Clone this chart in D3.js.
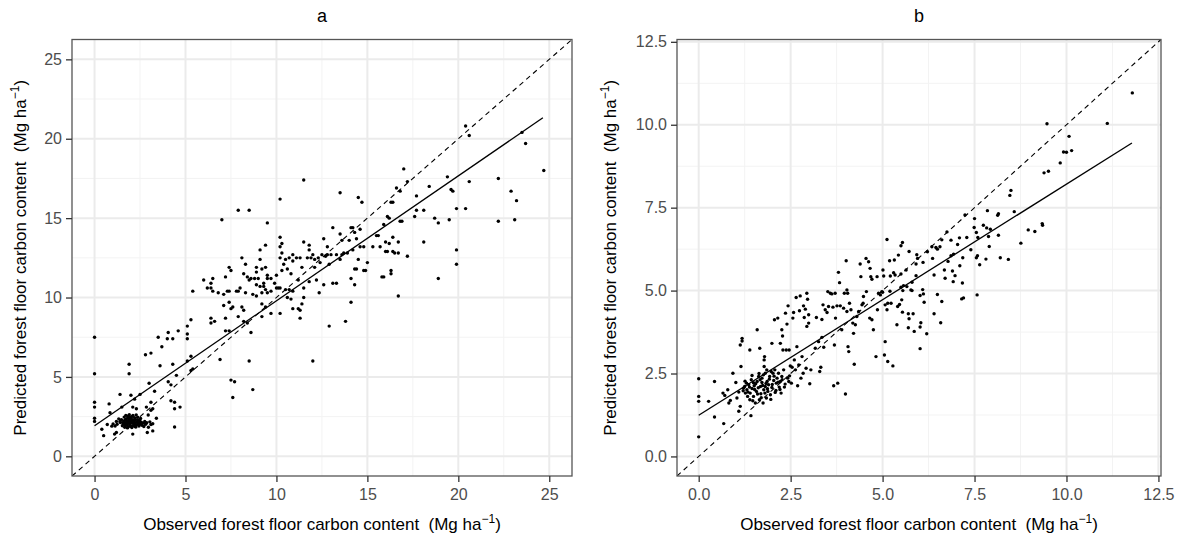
<!DOCTYPE html>
<html lang="en">
<head>
<meta charset="utf-8">
<title>Observed vs predicted forest floor carbon</title>
<script src="https://cdn.jsdelivr.net/npm/d3@7"></script>
<style>
  html, body {margin:0; padding:0; background:#fff;}
  svg {display:block; font-family:"Liberation Sans", Arial, Helvetica, sans-serif;}
  .grid-major {stroke:#ebebeb; stroke-width:2;}
  .grid-minor {stroke:#f3f3f3; stroke-width:1;}
  .axis path {display:none;}
  .axis line {stroke:#333; stroke-width:1.3;}
  .axis text {fill:#4d4d4d; font-size:16px; font-family:"Liberation Sans", Arial, sans-serif;}
  .title {font-size:18px; fill:#000;}
  .lab {font-size:17px; fill:#000; white-space:pre;}
</style>
</head>
<body>
<svg id="chart" width="1182" height="537"></svg>
<script>
// panel titles, axis ticks and fitted lines
var titles = ["a", "b"];
var ticksA = [0, 5, 10, 15, 20, 25];
var minorA = [2.5, 7.5, 12.5, 17.5, 22.5];
var ticksB = [0, 2.5, 5, 7.5, 10, 12.5];
var minorB = [1.25, 3.75, 6.25, 8.75, 11.25];
var fitA = [[0, 1.93], [24.65, 21.32]];
var fitB = [[0, 1.24], [11.78, 9.45]];

// [observed, predicted] - panel a
var pointsA = [
  [17.0,18.1],[17.2,17.3],[16.6,16.9],[17.7,16.4],[16.3,16.0],[17.7,15.5],[17.6,15.1],[16.8,14.8],[17.2,12.6],[16.7,10.1],
  [11.5,17.4],[13.5,16.6],[14.5,16.3],[14.7,16.0],[10.2,16.2],[7.9,15.5],[8.5,15.5],[7.0,14.9],[9.5,14.7],[16.1,15.1],
  [16.2,15.0],[15.9,14.6],[13.1,14.4],[14.1,14.4],[14.2,14.4],[14.3,14.1],[14.6,14.3],[10.2,13.8],[11.5,13.5],[11.8,13.3],
  [11.8,13.0],[9.4,13.3],[9.1,13.0],[12.6,13.7],[12.8,13.2],[13.5,14.0],[13.6,13.6],[14.0,13.6],[14.4,13.7],[14.6,13.2],
  [14.8,13.2],[15.3,13.2],[15.7,13.2],[16.0,13.5],[16.2,13.4],[16.4,13.8],[16.7,13.5],[16.7,12.8],[16.0,12.9],[16.4,12.9],
  [15.5,13.9],[10.2,13.2],[10.3,13.4],[10.3,12.8],[10.2,12.5],[10.5,12.4],[10.7,12.5],[10.9,12.7],[11.1,12.5],[11.3,12.5],
  [11.7,12.5],[12.0,12.7],[11.9,12.5],[12.1,12.4],[12.3,12.5],[12.5,12.7],[12.7,12.6],[12.8,12.7],[13.0,12.7],[13.3,12.7],
  [13.6,12.7],[13.7,12.8],[13.9,12.8],[14.2,13.0],[14.5,12.4],[15.0,12.2],[14.8,11.7],[14.3,11.8],[13.5,12.4],[12.9,12.1],
  [12.4,12.2],[12.1,11.9],[11.4,11.9],[10.9,12.3],[10.6,11.8],[10.8,11.5],[10.4,12.1],[10.3,11.7],[10.0,11.4],[9.7,11.2],
  [9.9,10.9],[10.1,10.6],[10.2,10.6],[10.5,10.5],[10.7,10.5],[10.9,10.4],[11.2,11.1],[11.5,10.6],[11.8,11.0],[12.2,11.1],
  [12.6,10.8],[13.1,10.9],[13.3,10.9],[14.1,11.2],[14.3,10.8],[14.1,9.7],[13.8,8.5],[12.9,8.2],[15.8,11.3],[16.3,11.7],
  [16.3,11.5],[8.9,11.6],[9.2,11.8],[9.0,11.2],[9.4,11.9],[9.5,11.4],[9.5,11.2],[9.3,10.9],[9.1,10.7],[8.9,10.8],
  [9.3,10.7],[9.4,10.5],[9.2,10.3],[9.5,10.3],[9.7,10.4],[10.0,10.6],[8.9,10.1],[8.7,10.2],[8.3,10.3],[8.0,10.6],
  [7.9,10.4],[7.8,10.4],[7.4,10.4],[7.3,10.4],[7.1,10.2],[6.8,10.3],[6.5,10.4],[6.4,10.6],[6.2,10.6],[6.0,11.1],
  [6.5,11.2],[6.4,10.9],[7.2,11.3],[7.4,11.9],[7.5,11.7],[8.1,12.5],[8.3,12.1],[8.2,11.5],[8.4,11.3],[8.6,11.2],
  [8.5,11.1],[8.8,11.2],[9.1,12.4],[8.9,11.9],[5.4,10.4],[5.3,8.6],[5.1,8.2],[6.4,8.7],[6.4,8.4],[6.6,8.5],
  [7.1,9.5],[7.4,9.7],[7.5,9.3],[7.6,9.4],[7.2,8.7],[7.9,8.8],[8.1,9.4],[8.2,9.2],[8.2,8.5],[8.4,8.4],
  [9.2,9.6],[9.2,8.8],[9.7,9.0],[10.2,9.0],[9.4,9.4],[10.8,9.9],[10.9,9.3],[11.2,9.3],[11.3,9.2],[11.4,9.6],
  [11.3,8.7],[10.6,10.0],[11.5,10.0],
  [0,7.5],[0,5.2],[0,3.4],[0,3.1],[0,2.4],[0,2.2],[3.5,7.5],[4.05,7.8],[4.6,7.9],[4.0,7.4],[4.3,7.4],[5.1,7.7],[5.1,7.4],
  [2.8,6.4],[3.1,6.5],[3.7,6.9],[5.3,6.3],[1.9,5.8],[1.9,5.2],[3.6,5.7],[4.3,5.8],[5.1,6.0],[6.9,6.1],[5.4,5.5],[5.3,5.4],
  [4.5,5.1],[3.0,4.6],[3.3,4.1],[4.05,4.7],[4.2,4.5],[1.4,3.9],[2.0,3.85],[2.5,3.9],[2.2,3.6],[2.1,3.1],[2.3,3.0],[3.1,3.4],
  [3.2,3.0],[4.2,3.5],[4.4,3.4],[4.4,3.0],[4.7,3.1],[4.4,1.85],[0.8,3.3],[0.85,2.75],[1.5,3.1],[3.1,2.9],[2.85,3.1],[3.4,2.4],
  [2.95,2.6],[0.4,1.7],[0.5,1.3],[0.7,2.0],[0.95,1.9],[1.1,1.4],[1.2,1.5],[1.2,2.2],[1.4,2.2],[2.1,1.4],[2.9,1.5],[3.2,1.6],
  [2.8,2.1],[3.1,2.0],[3.2,2.05],
  [1.42,2.13],[1.48,2.31],[1.53,1.92],[1.57,2.04],[1.61,2.22],[1.63,2.47],[1.66,1.83],[1.68,2.11],[1.71,2.34],[1.72,2.58],
  [1.75,1.95],[1.77,2.02],[1.79,2.19],[1.82,2.41],[1.84,2.53],[1.86,1.86],[1.88,2.08],[1.90,2.27],[1.91,2.62],[1.94,1.97],
  [1.96,2.05],[1.98,2.16],[2.01,2.38],[2.03,2.49],[2.05,1.81],[2.07,2.12],[2.09,2.29],[2.11,2.57],[2.14,1.93],[2.16,2.01],
  [2.18,2.21],[2.20,2.43],[2.23,2.09],[2.25,2.32],[2.27,1.84],[2.31,1.99],[2.34,2.18],[2.37,2.46],[2.41,2.07],[2.44,1.91],
  [2.48,2.24],[2.52,2.03],[2.57,2.15],[2.61,1.96],[2.66,2.09],[2.71,1.88],[2.76,2.19],[2.81,2.02],[2.87,2.12],[2.96,1.83],
  [3.04,2.17],[1.33,2.36],[1.24,2.02],[1.13,1.91],[1.02,2.04],[2.53,2.38],[2.29,2.61],[1.58,2.14],[1.74,2.27],[1.85,2.15],
  [1.93,2.34],[2.06,2.24],[2.13,2.11],[1.99,1.89],[1.81,1.79],[2.22,1.88],[2.39,2.29],[1.69,1.97],[2.46,2.12],[1.87,2.46],
  [7.5,4.8],[7.7,4.7],[7.6,3.7],[8.5,6.0],[8.7,4.2],[8.6,7.8],[7.2,7.9],[7.4,7.9],
  [20.4,20.8],[20.6,20.2],[23.5,20.4],[23.7,19.7],[24.7,18.0],[18.4,17.0],[19.4,17.6],[20.6,17.3],[19.6,16.8],[19.7,16.7],
  [16.8,16.7],[16.4,16.0],[22.2,17.5],[22.2,14.8],[22.9,16.7],[23.2,16.1],[23.1,14.9],[19.9,15.6],[20.4,15.6],[18.7,15.0],
  [18.9,14.7],[19.5,14.9],[18.1,15.5],[16.9,14.8],[15.6,13.9],[18.1,13.5],[19.9,13.0],[19.9,12.1],[18.9,11.2],[16.1,12.9],
  [16.5,12.8],[15.9,11.3],[14.9,11.7],[14.4,11.8],[12.35,10.3],[12.0,6.0]
];

// [observed, predicted] - panel b
var pointsB = [
  [0,2.34],[0,1.81],[0,1.66],[0,0.59],[0.43,2.26],[0.27,1.66],[0.43,1.19],[0.68,0.99],[0.66,1.91],[0.71,1.84],
  [0.79,2.01],[0.82,1.61],[0.86,1.69],[0.93,2.51],[1.01,2.23],[1.04,1.76],[1.09,1.94],[1.09,1.36],[1.13,1.51],[1.15,2.71],
  [1.18,3.56],[1.13,3.36],[1.18,3.48],[1.22,2.06],[1.25,2.11],[1.27,1.91],[1.30,2.21],[1.31,2.01],[1.33,1.81],[1.36,2.16],
  [1.39,1.71],[1.40,1.91],[1.42,1.23],[1.45,2.05],[1.45,2.44],[1.39,3.21],[1.49,1.81],[1.51,2.13],[1.54,1.61],[1.57,1.96],
  [1.59,2.26],[1.59,3.82],[1.63,2.41],[1.65,1.71],[1.66,3.26],[1.68,2.11],[1.69,1.89],[1.72,2.23],[1.72,2.36],[1.75,1.61],
  [1.77,2.01],[1.78,2.71],[1.78,2.91],[1.79,3.01],[1.81,2.11],[1.81,2.51],[1.84,1.76],[1.86,2.26],[1.88,1.96],[1.90,2.16],
  [1.93,2.41],[1.95,1.86],[1.97,2.56],[1.99,2.08],[1.99,3.41],[2.02,2.51],[2.04,2.29],[2.06,4.12],[2.07,2.61],[2.08,1.93],
  [2.11,2.21],[2.13,2.36],[2.15,4.17],[2.17,2.51],[2.19,2.09],[2.22,3.41],[2.22,2.26],[2.24,1.91],[2.26,3.82],[2.28,3.63],
  [2.26,2.41],[2.29,3.21],[2.31,2.61],[2.33,2.09],[2.36,4.32],[2.38,3.21],[2.40,3.99],[2.43,4.54],[2.45,2.26],[2.46,3.21],
  [2.47,2.43],[2.49,2.73],[2.52,2.21],[2.54,2.69],[2.56,4.17],[2.58,4.34],[2.60,2.91],[2.63,2.61],[2.65,4.79],[2.67,3.31],
  [2.69,2.13],[2.72,2.76],[2.74,4.39],[2.76,4.84],[2.78,2.36],[2.81,3.01],[2.84,2.51],[2.85,4.54],[2.87,4.19],[2.90,4.44],
  [2.92,2.66],[2.94,4.92],[2.94,3.92],[2.96,4.74],[2.99,4.02],[2.99,4.27],[3.02,2.19],[3.05,2.61],[3.17,3.26],[3.20,4.19],
  [3.26,3.46],[3.29,2.56],[3.32,2.69],[3.35,3.59],[3.35,4.13],[3.38,4.57],[3.40,3.29],[3.44,4.42],[3.49,4.34],[3.51,4.97],
  [3.53,4.52],[3.58,4.92],[3.62,4.90],[3.65,4.50],[3.67,2.13],[3.69,3.36],[3.71,4.92],[3.72,4.17],[3.76,4.54],[3.78,2.21],
  [3.80,5.55],[3.83,5.24],[3.85,4.54],[3.89,3.82],[3.94,4.47],[3.96,4.92],[3.99,1.88],[4.01,5.90],[4.03,5.02],[4.03,4.37],
  [4.05,4.92],[4.06,3.31],[4.08,3.16],[4.10,4.62],[4.14,4.42],[4.19,4.02],[4.21,3.71],[4.23,2.78],[4.26,3.97],[4.30,4.22],
  [4.35,4.37],[4.39,5.80],[4.41,5.42],[4.44,4.57],[4.47,4.62],[4.48,4.82],[4.55,5.97],[4.56,4.97],[4.62,5.87],[4.65,4.17],
  [4.66,5.67],[4.68,5.42],[4.71,4.12],[4.71,5.34],[4.75,3.82],[4.82,3.01],[4.85,5.42],[4.86,4.42],[4.89,4.92],[4.94,4.87],
  [4.98,4.97],[5.01,5.62],[5.03,5.44],[5.05,3.06],[5.07,3.46],[5.07,4.57],[5.12,4.42],[5.14,2.86],[5.19,5.90],[5.21,5.44],
  [5.23,4.62],[5.28,2.73],[5.30,5.54],[5.32,5.92],[5.34,5.47],[5.39,3.97],[5.41,4.52],[5.43,6.07],[5.12,6.54],
  [5.0,4.95],[5.20,4.98],[5.14,4.62],
  [1.21,1.98],[1.26,2.27],[1.34,1.94],[1.38,2.09],[1.43,2.31],[1.47,1.68],[1.52,2.02],[1.55,2.19],[1.60,1.88],[1.62,2.07],
  [1.67,2.31],[1.70,1.77],[1.74,2.14],[1.76,2.46],[1.80,1.91],[1.83,2.20],[1.87,2.04],[1.92,2.33],[1.96,1.72],[2.00,2.17],
  [2.05,2.42],[2.10,1.99],[2.16,2.24],[2.21,2.02],[2.27,2.31],[2.35,2.18],[2.42,2.36],[1.49,2.22],[1.64,2.50],[1.85,2.61],
  [9.47,10.03],[10.07,9.65],[9.92,9.18],[10.0,9.17],[10.14,9.22],[9.83,8.85],[9.39,8.55],[9.51,8.6],[8.49,8.02],[8.46,7.87],
  [8.58,7.38],[8.96,6.83],[9.14,6.78],[9.34,7.02],[9.35,6.97],[8.76,6.43],[8.15,7.32],[8.13,7.27],[7.85,7.41],[7.50,7.17],
  [7.74,6.97],[7.83,6.89],[7.93,6.85],[7.88,6.63],[7.90,6.33],[8.15,6.67],[8.20,5.99],[8.42,5.94],[7.81,5.95],[7.58,6.05],
  [7.55,5.99],[7.64,5.78],[7.57,4.87],[7.24,7.28],[7.29,6.60],[7.55,6.75],[7.49,6.90],[7.59,6.60],[7.40,6.23],[7.18,5.99],
  [7.10,5.75],[7.17,5.23],[7.15,4.75],[7.20,4.78],[7.09,6.59],[7.04,6.39],[6.93,6.10],[6.86,6.05],[6.78,5.88],[6.97,5.45],
  [6.90,5.59],[6.92,5.27],[6.68,5.62],[6.70,5.37],[6.49,6.25],[6.45,6.30],[6.56,6.32],[6.61,6.53],[6.75,6.77],[6.86,6.52],
  [6.36,5.97],[6.40,5.47],[6.49,4.88],[6.61,4.67],[6.40,4.30],[6.58,4.03],[6.20,3.70],[6.02,3.90],[6.04,4.03],
  [6.02,3.25],[5.86,3.77],[5.83,4.30],[5.70,4.30],[5.72,4.15],[5.70,3.88],[5.54,4.35],[6.13,4.65],[6.11,4.90],[6.02,4.85],
  [6.09,5.03],[5.80,5.0],[5.77,5.02],[5.91,5.45],[5.80,5.25],[5.55,5.0],[5.52,4.72],[5.46,4.58],[5.50,5.10],[5.57,5.15],
  [5.66,5.12],[5.50,5.50],[5.64,5.62],[5.50,6.35],[5.54,6.45],[5.72,6.18],[5.93,6.08],[5.95,5.97],[6.10,5.85],[5.91,5.80],
  [6.22,6.17],[6.34,6.32],
  [11.79,10.96],[11.11,10.04]
];

var svg = d3.select("#chart");

var panels = [
  {title: titles[0], pts: pointsA, fit: fitA, ticks: ticksA, minor: minorA, lim: [-1.24, 26.25],
   left: 72, right: 572, top: 39.5, bottom: 476, ylabX: 26, fmt: d3.format("d")},
  {title: titles[1], pts: pointsB, fit: fitB, ticks: ticksB, minor: minorB, lim: [-0.59, 12.57],
   left: 677, right: 1161, top: 39.5, bottom: 476, ylabX: 616, fmt: d3.format(".1f")}
];

function addUnits(sel, label) {
  sel.append("tspan").text(label + "  (Mg ha");
  sel.append("tspan").attr("dy", -7).style("font-size", "12px").text("\u22121");
  sel.append("tspan").attr("dy", 7).text(")");
}

panels.forEach(function (p, i) {
  var x = d3.scaleLinear().domain(p.lim).range([p.left, p.right]);
  var y = d3.scaleLinear().domain(p.lim).range([p.bottom, p.top]);
  var g = svg.append("g");

  g.append("clipPath").attr("id", "clip" + i)
    .append("rect")
    .attr("x", p.left).attr("y", p.top)
    .attr("width", p.right - p.left).attr("height", p.bottom - p.top);

  var inner = g.append("g").attr("clip-path", "url(#clip" + i + ")");

  // grid
  inner.selectAll(".mx").data(p.minor).join("line").attr("class", "grid-minor")
    .attr("x1", d => x(d)).attr("x2", d => x(d)).attr("y1", p.top).attr("y2", p.bottom);
  inner.selectAll(".my").data(p.minor).join("line").attr("class", "grid-minor")
    .attr("y1", d => y(d)).attr("y2", d => y(d)).attr("x1", p.left).attr("x2", p.right);
  inner.selectAll(".gx").data(p.ticks).join("line").attr("class", "grid-major")
    .attr("x1", d => x(d)).attr("x2", d => x(d)).attr("y1", p.top).attr("y2", p.bottom);
  inner.selectAll(".gy").data(p.ticks).join("line").attr("class", "grid-major")
    .attr("y1", d => y(d)).attr("y2", d => y(d)).attr("x1", p.left).attr("x2", p.right);

  // 1:1 line
  inner.append("line")
    .attr("x1", x(p.lim[0])).attr("y1", y(p.lim[0]))
    .attr("x2", x(p.lim[1])).attr("y2", y(p.lim[1]))
    .attr("stroke", "#000").attr("stroke-width", 1.1).attr("stroke-dasharray", "5,4");

  // points
  inner.selectAll("circle").data(p.pts).join("circle")
    .attr("cx", d => x(d[0])).attr("cy", d => y(d[1])).attr("r", 1.7).attr("fill", "#000");

  // fitted line
  inner.append("path").datum(p.fit)
    .attr("d", d3.line().x(d => x(d[0])).y(d => y(d[1])))
    .attr("fill", "none").attr("stroke", "#000").attr("stroke-width", 1.3);

  // border
  g.append("rect")
    .attr("x", p.left).attr("y", p.top)
    .attr("width", p.right - p.left).attr("height", p.bottom - p.top)
    .attr("fill", "none").attr("stroke", "#555").attr("stroke-width", 1.3);

  g.append("g").attr("class", "axis")
    .attr("transform", "translate(0," + p.bottom + ")")
    .call(d3.axisBottom(x).tickValues(p.ticks).tickFormat(p.fmt).tickSize(6).tickPadding(7));
  g.append("g").attr("class", "axis")
    .attr("transform", "translate(" + p.left + ",0)")
    .call(d3.axisLeft(y).tickValues(p.ticks).tickFormat(p.fmt).tickSize(6).tickPadding(4));

  var cx = (p.left + p.right) / 2, cy = (p.top + p.bottom) / 2;

  g.append("text").attr("class", "title")
    .attr("x", cx).attr("y", 22).attr("text-anchor", "middle").text(p.title);

  addUnits(g.append("text").attr("class", "lab")
    .attr("x", cx).attr("y", 530).attr("text-anchor", "middle"),
    "Observed forest floor carbon content");

  addUnits(g.append("text").attr("class", "lab")
    .attr("transform", "translate(" + p.ylabX + "," + cy + ") rotate(-90)")
    .attr("text-anchor", "middle"),
    "Predicted forest floor carbon content");
});
</script>
</body>
</html>
